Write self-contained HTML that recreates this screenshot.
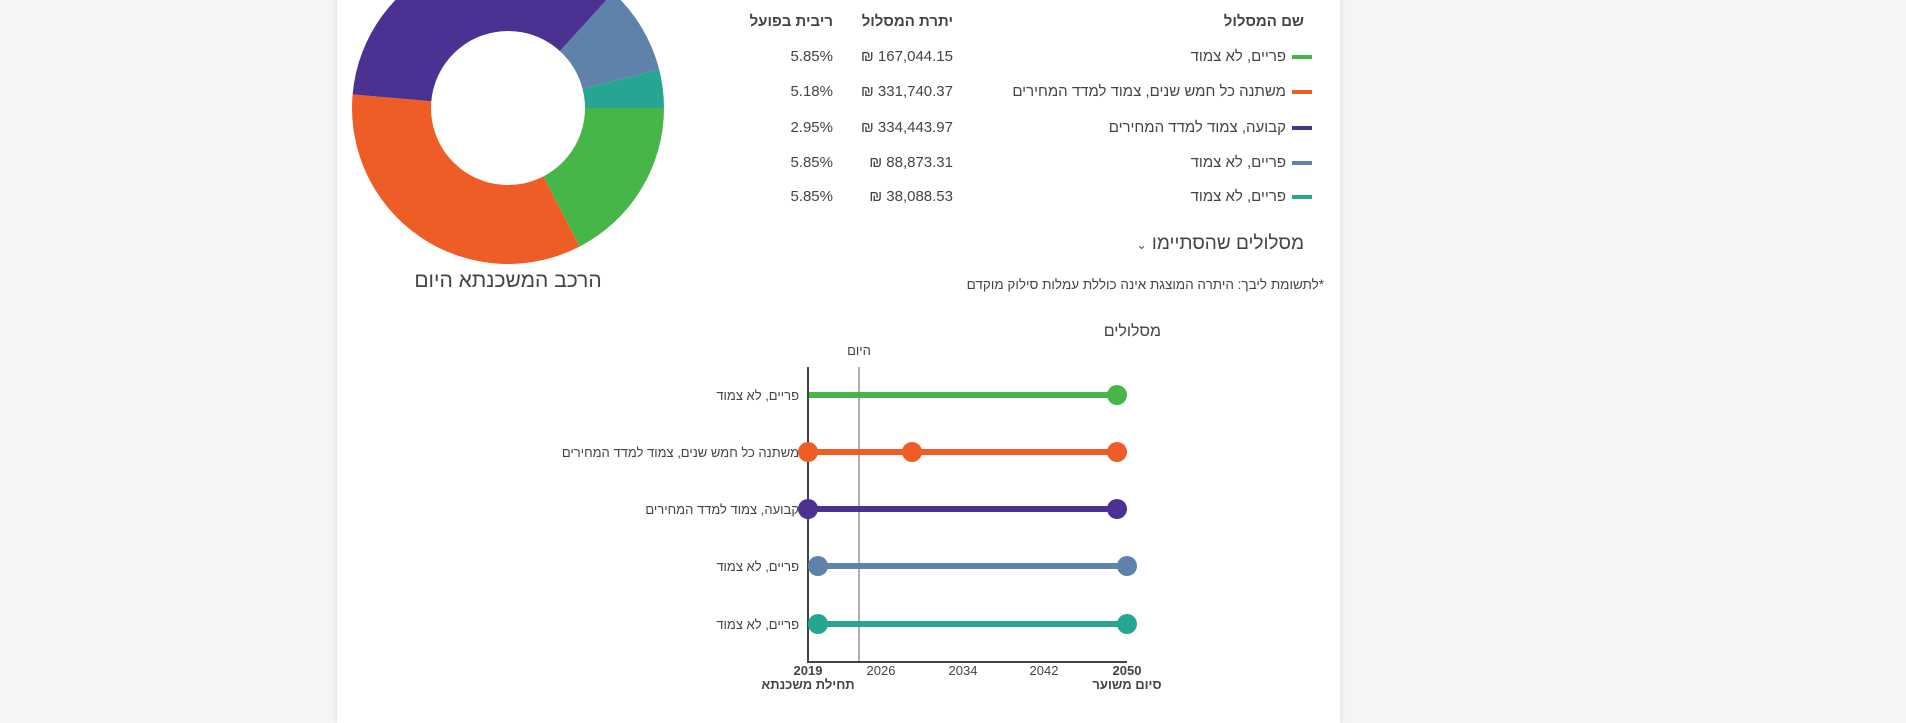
<!DOCTYPE html>
<html><head><meta charset="utf-8">
<style>
html,body{margin:0;padding:0;width:1906px;height:723px;overflow:hidden;background:#f5f5f5;font-family:"Liberation Sans","Noto Sans CJK JP",sans-serif;color:#444}
.card{position:absolute;left:337px;top:0;width:1003px;height:723px;background:#fff;box-shadow:0 0 6px rgba(0,0,0,.12)}
.t{position:absolute;direction:rtl;white-space:nowrap;line-height:20px;height:20px;font-stretch:condensed}
svg{position:absolute;left:0;top:0}
</style></head><body>
<div class="card"></div>
<svg width="1906" height="723" viewBox="0 0 1906 723">
<g transform="translate(508,108)">
<path d="M156 0 A156 156 0 0 1 71.7 138.5 L35.4 68.4 A77 77 0 0 0 77 0 Z" fill="#46b649"/>
<path d="M71.7 138.5 A156 156 0 0 1 -155.4 -13.6 L-76.7 -6.7 A77 77 0 0 0 35.4 68.4 Z" fill="#ee5d26"/>
<path d="M-155.4 -13.6 A156 156 0 0 1 105.1 -115.3 L51.9 -56.9 A77 77 0 0 0 -76.7 -6.7 Z" fill="#4b3192"/>
<path d="M105.1 -115.3 A156 156 0 0 1 151.2 -38.5 L74.6 -19 A77 77 0 0 0 51.9 -56.9 Z" fill="#5f82ab"/>
<path d="M151.2 -38.5 A156 156 0 0 1 156 0 L77 0 A77 77 0 0 0 74.6 -19 Z" fill="#26a593"/>
</g>
<rect x="1292" y="55" width="20" height="4" fill="#46b649"/>
<rect x="1292" y="90" width="20" height="4" fill="#ee5d26"/>
<rect x="1292" y="126" width="20" height="4" fill="#4b3192"/>
<rect x="1292" y="161" width="20" height="4" fill="#5f82ab"/>
<rect x="1292" y="195" width="20" height="4" fill="#26a593"/>
<line x1="859" y1="367" x2="859" y2="662" stroke="#b0b0b0" stroke-width="2"/>
<g stroke-width="6">
<line x1="808" y1="395" x2="1117" y2="395" stroke="#46b649"/>
<line x1="808" y1="452" x2="1117" y2="452" stroke="#ee5d26"/>
<line x1="808" y1="509" x2="1117" y2="509" stroke="#4b3192"/>
<line x1="818" y1="566" x2="1127" y2="566" stroke="#5f82ab"/>
<line x1="818" y1="624" x2="1127" y2="624" stroke="#26a593"/>
</g>
<line x1="808" y1="367" x2="808" y2="663" stroke="#444" stroke-width="2"/>
<line x1="807" y1="662" x2="1127" y2="662" stroke="#444" stroke-width="2"/>
<g>
<circle cx="1117" cy="395" r="10" fill="#46b649"/>
<circle cx="808" cy="452" r="10" fill="#ee5d26"/><circle cx="912" cy="452" r="10" fill="#ee5d26"/><circle cx="1117" cy="452" r="10" fill="#ee5d26"/>
<circle cx="808" cy="509" r="10" fill="#4b3192"/><circle cx="1117" cy="509" r="10" fill="#4b3192"/>
<circle cx="818" cy="566" r="10" fill="#5f82ab"/><circle cx="1127" cy="566" r="10" fill="#5f82ab"/>
<circle cx="818" cy="624" r="10" fill="#26a593"/><circle cx="1127" cy="624" r="10" fill="#26a593"/>
</g>
<g font-family="Liberation Sans, sans-serif" font-size="13" fill="#444" text-anchor="middle">
<text x="808" y="675" font-weight="bold">2019</text>
<text x="881" y="675">2026</text>
<text x="963" y="675">2034</text>
<text x="1044" y="675">2042</text>
<text x="1127" y="675" font-weight="bold">2050</text>
</g>
</svg>
<div class="t" style="left:408px;width:200px;text-align:center;top:267px;font-size:21px;line-height:28px;height:28px">הרכב המשכנתא היום</div>

<div class="t" style="right:602px;top:12px;font-size:15px;font-weight:bold">שם המסלול</div>
<div class="t" style="right:953px;top:12px;font-size:15px;font-weight:bold">יתרת המסלול</div>
<div class="t" style="right:1073px;top:12px;font-size:15px;font-weight:bold">ריבית בפועל</div>

<div class="t" style="right:620px;top:47px;font-size:15px">פריים, לא צמוד</div>
<div class="t" style="right:620px;top:82px;font-size:15px">משתנה כל חמש שנים, צמוד למדד המחירים</div>
<div class="t" style="right:620px;top:118px;font-size:15px">קבועה, צמוד למדד המחירים</div>
<div class="t" style="right:620px;top:153px;font-size:15px">פריים, לא צמוד</div>
<div class="t" style="right:620px;top:187px;font-size:15px">פריים, לא צמוד</div>

<div class="t" style="right:953px;top:47px;font-size:15px">167,044.15 ₪</div>
<div class="t" style="right:953px;top:82px;font-size:15px">331,740.37 ₪</div>
<div class="t" style="right:953px;top:118px;font-size:15px">334,443.97 ₪</div>
<div class="t" style="right:953px;top:153px;font-size:15px">88,873.31 ₪</div>
<div class="t" style="right:953px;top:187px;font-size:15px">38,088.53 ₪</div>

<div class="t" style="right:1073px;top:47px;font-size:15px">5.85%</div>
<div class="t" style="right:1073px;top:82px;font-size:15px">5.18%</div>
<div class="t" style="right:1073px;top:118px;font-size:15px">2.95%</div>
<div class="t" style="right:1073px;top:153px;font-size:15px">5.85%</div>
<div class="t" style="right:1073px;top:187px;font-size:15px">5.85%</div>

<div class="t" style="right:602px;top:232px;font-size:19px;line-height:24px;height:24px">מסלולים שהסתיימו <span style="font-size:12px">⌄</span></div>
<div class="t" style="right:582px;top:275px;font-size:13.5px">*לתשומת ליבך: היתרה המוצגת אינה כוללת עמלות סילוק מוקדם</div>

<div class="t" style="right:745px;top:322px;font-size:16px">מסלולים</div>
<div class="t" style="left:829px;width:60px;text-align:center;top:341px;font-size:13px">היום</div>

<div class="t" style="right:1107px;top:386px;font-size:13px">פריים, לא צמוד</div>
<div class="t" style="right:1107px;top:443px;font-size:13px">משתנה כל חמש שנים, צמוד למדד המחירים</div>
<div class="t" style="right:1107px;top:500px;font-size:13px">קבועה, צמוד למדד המחירים</div>
<div class="t" style="right:1107px;top:557px;font-size:13px">פריים, לא צמוד</div>
<div class="t" style="right:1107px;top:615px;font-size:13px">פריים, לא צמוד</div>

<div class="t" style="left:728px;width:160px;text-align:center;top:675px;font-size:13px;font-weight:bold">תחילת משכנתא</div>
<div class="t" style="left:1067px;width:120px;text-align:center;top:675px;font-size:13px;font-weight:bold">סיום משוער</div>
</body></html>
